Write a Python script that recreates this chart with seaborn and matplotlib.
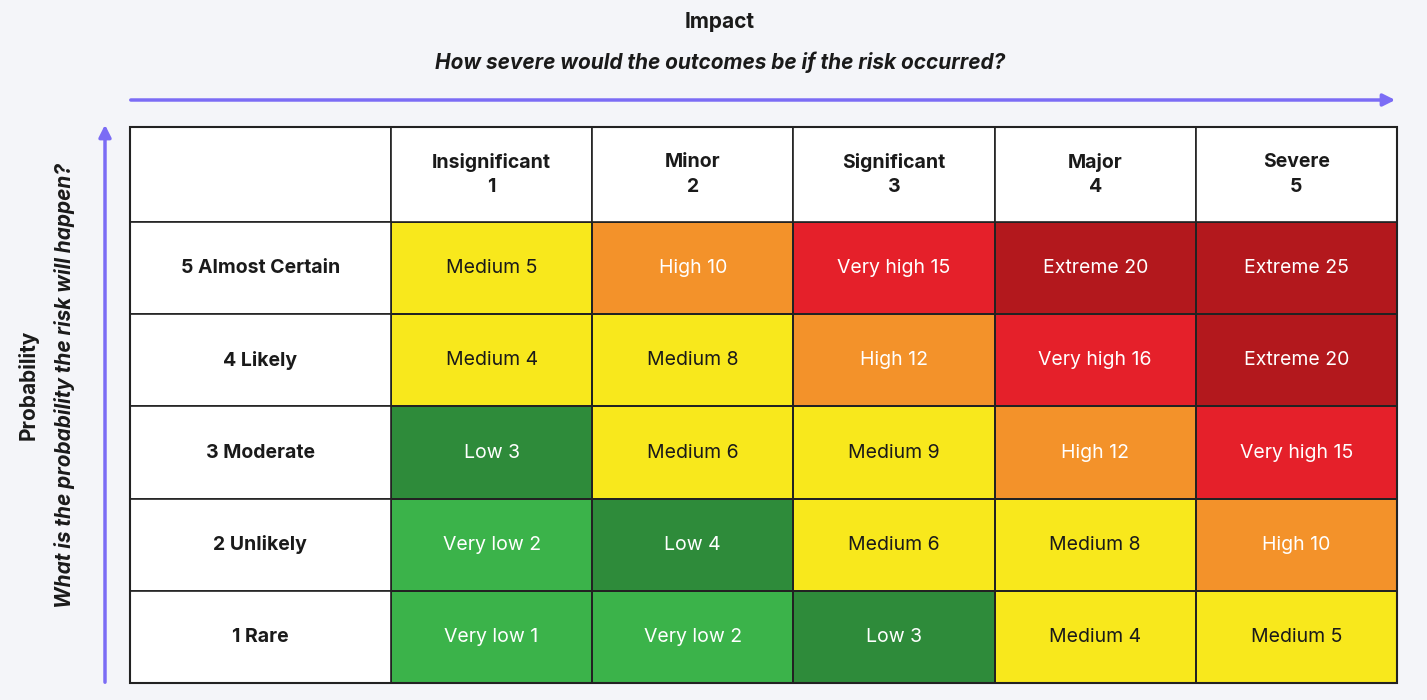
import matplotlib
matplotlib.use("Agg")
import matplotlib.pyplot as plt
from matplotlib.colors import ListedColormap
from matplotlib.patches import Rectangle, FancyArrowPatch
import seaborn as sns
import numpy as np

sns.set_style("white")
plt.rcParams["font.family"] = ["Inter", "DejaVu Sans"]

impact_labels = ["Insignificant\n1", "Minor\n2", "Significant\n3", "Major\n4", "Severe\n5"]
prob_labels = ["5 Almost Certain", "4 Likely", "3 Moderate", "2 Unlikely", "1 Rare"]
scores = [[5, 10, 15, 20, 25],
          [4, 8, 12, 16, 20],
          [3, 6, 9, 12, 15],
          [2, 4, 6, 8, 10],
          [1, 2, 3, 4, 5]]
# 0 very low, 1 low, 2 medium, 3 high, 4 very high, 5 extreme
levels = [[2, 3, 4, 5, 5],
          [2, 2, 3, 4, 5],
          [1, 2, 2, 3, 4],
          [0, 1, 2, 2, 3],
          [0, 0, 1, 2, 2]]
level_names = ["Very low", "Low", "Medium", "High", "Very high", "Extreme"]
level_colors = ["#3bb34a", "#2e8b3a", "#f8e81c", "#f3922a", "#e5202a", "#b3181d"]
text_colors = ["white", "white", "#1a1a1a", "white", "white", "white"]

W, H = 1427, 700
fig = plt.figure(figsize=(W / 100, H / 100), dpi=100)
fig.patch.set_facecolor("#f4f5f9")
ax = fig.add_axes([391 / W, 1 - 683 / H, (1397 - 391) / W, (683 - 222) / H])

lv = np.array(levels)
annot = np.array([[f"{level_names[levels[i][j]]} {scores[i][j]}" for j in range(5)] for i in range(5)])
sns.heatmap(lv, cmap=ListedColormap(level_colors), vmin=-0.5, vmax=5.5, cbar=False,
            linewidths=1.2, linecolor="#222222", ax=ax, xticklabels=False, yticklabels=False)
for i in range(5):
    for j in range(5):
        ax.text(j + 0.5, i + 0.5, annot[i, j], ha="center", va="center", fontsize=14,
                color=text_colors[levels[i][j]])

hh = 95 / 92.2
lw = 261 / 201
# header row / label column cells
ax.add_patch(Rectangle((-lw, -hh), lw, hh, fc="white", ec="#222222", lw=1.2, clip_on=False))
for j, lab in enumerate(impact_labels):
    ax.add_patch(Rectangle((j, -hh), 1, hh, fc="white", ec="#222222", lw=1.2, clip_on=False))
    ax.text(j + 0.5, -hh / 2, lab, ha="center", va="center", fontsize=14, fontweight="bold",
            linespacing=1.5, color="#1a1a1a")
for i, lab in enumerate(prob_labels):
    ax.add_patch(Rectangle((-lw, i), lw, 1, fc="white", ec="#222222", lw=1.2, clip_on=False))
    ax.text(-lw / 2, i + 0.5, lab, ha="center", va="center", fontsize=14, fontweight="bold",
            color="#1a1a1a")
ax.add_patch(Rectangle((-lw, -hh), 5 + lw, 5 + hh, fill=False, ec="#222222", lw=1.5, clip_on=False))

arrow_c = "#7b6cf5"
fig.patches.append(FancyArrowPatch((128 / W, 1 - 100 / H), (1398 / W, 1 - 100 / H),
                                   transform=fig.transFigure, arrowstyle="-|>", mutation_scale=18,
                                   color=arrow_c, lw=2.5))
fig.patches.append(FancyArrowPatch((105 / W, 1 - 685 / H), (105 / W, 1 - 122 / H),
                                   transform=fig.transFigure, arrowstyle="-|>", mutation_scale=18,
                                   color=arrow_c, lw=2.5))

fig.text(720 / W, 1 - 22 / H, "Impact", ha="center", va="center", fontsize=15, fontweight="bold",
         color="#1a1a1a")
fig.text(720 / W, 1 - 62 / H, "How severe would the outcomes be if the risk occurred?", ha="center",
         va="center", fontsize=15, fontweight="bold", style="italic", color="#1a1a1a")
fig.text(28 / W, 1 - 385 / H, "Probability", ha="center", va="center", rotation=90, fontsize=15,
         fontweight="bold", color="#1a1a1a")
fig.text(65 / W, 1 - 385 / H, "What is the probability the risk will happen?", ha="center",
         va="center", rotation=90, fontsize=15, fontweight="bold", style="italic", color="#1a1a1a")

fig.savefig("out.png", dpi=100, facecolor=fig.get_facecolor())
